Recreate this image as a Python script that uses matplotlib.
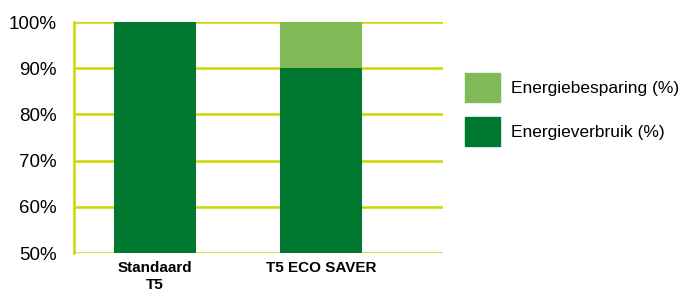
import numpy as np
import matplotlib.pyplot as plt
from matplotlib.patches import Patch

plt.rcParams['font.family'] = ['Liberation Sans', 'DejaVu Sans']

categories = ['Standaard\nT5', 'T5 ECO SAVER']
verbruik = [100, 90]
besparing = [0, 10]
yticks = [50, 60, 70, 80, 90, 100]

dark = '#00782f'
light = '#7fba57'
grid = '#ccd600'

fig = plt.figure(figsize=(6.83, 2.98), dpi=100)
ax = fig.add_axes([0.108, 0.151, 0.541, 0.775])

x = np.arange(len(categories))
ax.bar(x, verbruik, width=0.494, color=dark, zorder=3)
ax.bar(x, besparing, bottom=verbruik, width=0.494, color=light, zorder=3)

ax.set_ylim(50, 100)
ax.set_xlim(-0.488, 1.735)
ax.set_yticks(yticks)
ax.set_yticklabels([f'{v}%' for v in yticks], fontsize=13.5)
ax.set_xticks(x)
ax.set_xticklabels(categories, fontsize=11, fontweight='bold')
ax.yaxis.grid(True, color=grid, lw=1.8, zorder=0)
ax.tick_params(axis='y', length=0, pad=12)
ax.tick_params(axis='x', length=0, pad=6)
for s in ['top', 'right', 'bottom']:
    ax.spines[s].set_visible(False)
ax.spines['left'].set_color(grid)
ax.spines['left'].set_linewidth(1.8)
ax.spines['left'].set_bounds(50, 100)

handles = [Patch(color=light, label='Energiebesparing (%)'),
           Patch(color=dark, label='Energieverbruik (%)')]
fig.legend(handles=handles, loc='upper left', bbox_to_anchor=(0.681, 0.755),
           frameon=False, fontsize=12.5, handlelength=2.0, handleheight=2.2,
           labelspacing=0.85, handletextpad=0.65, borderpad=0, borderaxespad=0)

fig.savefig('out.png', dpi=100)
